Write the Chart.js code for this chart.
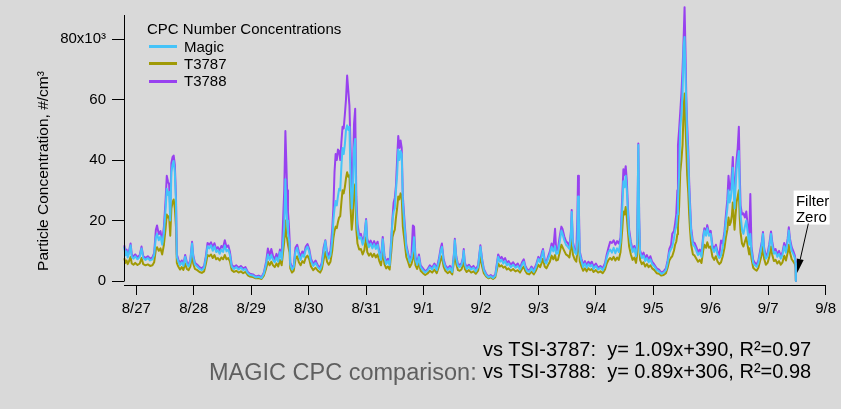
<!DOCTYPE html>
<html><head><meta charset="utf-8">
<script src="https://cdn.jsdelivr.net/npm/chart.js@4.4.1/dist/chart.umd.min.js"></script>
<style>
html,body{margin:0;padding:0;background:#d9d9d9;}
#wrap{position:relative;width:841px;height:409px;overflow:hidden;background:#d9d9d9;font-family:'Liberation Sans',Arial,Helvetica,sans-serif;}
#c{position:absolute;left:0;top:0;}
.abs{position:absolute;white-space:pre;color:#000;}
.lgline{position:absolute;height:3px;width:28px;}
</style></head><body>
<div id="wrap">
<canvas id="c" width="841" height="409"></canvas>
<div id="legend"></div>
<div class="abs" style="left:483px;top:339px;font-size:20px;line-height:20px;">vs TSI-3787:  y= 1.09x+390, R²=0.97</div>
<div class="abs" style="left:209px;top:361px;font-size:23.5px;line-height:23.5px;color:#5f5f5f;">MAGIC CPC comparison:</div>
<div class="abs" style="left:483px;top:361px;font-size:20px;line-height:20px;">vs TSI-3788:  y= 0.89x+306, R²=0.98</div>
</div>
<script>
// ---- DATA (time in days since 8/27 00:00; concentrations in 10^3 #/cm^3) ----
const TIME_DAYS = [
 -0.21,-0.19,-0.17,-0.15,-0.13,-0.10,-0.08,-0.05,-0.02,0.02,0.06,0.09,0.12,0.16,0.20,0.24,0.28,0.31,
 0.34,0.36,0.39,0.42,0.45,0.48,0.51,0.53,0.55,0.57,0.59,0.61,0.63,0.65,0.67,0.69,0.705,
 0.73,0.76,0.79,0.82,0.85,0.88,0.91,0.94,0.97,0.99,1.02,1.06,1.10,1.14,1.18,
 1.21,1.24,1.27,1.30,1.33,1.36,1.39,1.42,1.45,1.48,1.51,1.54,1.57,1.60,1.63,
 1.66,1.70,1.74,1.78,1.82,1.86,1.90,1.94,1.98,2.03,2.08,2.13,2.18,
 2.22,2.26,2.29,2.32,2.35,2.38,2.41,2.44,2.47,2.50,2.53,
 2.575,2.595,2.61,2.625,2.64,2.655,2.668,
 2.68,2.71,2.74,2.77,2.80,2.83,2.86,2.89,2.92,2.95,2.98,3.01,3.04,3.08,3.12,3.16,3.20,3.23,
 3.26,3.29,3.32,3.35,3.38,3.41,
 3.43,3.45,3.47,3.49,3.51,3.53,3.55,3.57,3.59,3.61,3.63,3.65,3.67,3.69,3.71,3.73,3.75,3.77,3.79,3.81,3.83,3.85,
 3.88,3.91,3.94,3.97,4.00,4.02,4.05,4.08,4.11,4.14,4.17,4.20,4.23,4.26,4.29,4.32,4.35,4.38,4.41,
 4.44,4.46,4.48,4.50,4.52,4.54,4.56,4.58,4.60,4.62,4.64,4.67,
 4.70,4.73,4.76,4.79,4.815,4.835,4.86,4.89,4.92,4.95,4.99,5.03,5.07,5.11,5.15,5.19,5.23,
 5.27,5.30,5.32,5.35,5.38,5.42,5.46,5.50,5.53,5.545,5.57,5.60,5.63,5.66,5.685,5.70,5.72,5.75,5.79,5.83,5.87,5.91,5.95,5.99,6.02,
 6.05,6.09,6.13,6.17,6.21,6.25,6.28,6.30,6.33,6.36,6.39,6.42,6.45,6.48,6.52,6.56,6.60,6.64,6.68,6.72,6.745,6.77,6.80,6.84,6.88,6.92,6.96,
 7.00,7.03,7.06,7.08,7.11,7.14,7.17,7.20,7.23,7.26,7.29,7.31,7.34,7.37,7.40,7.42,7.45,7.48,7.51,7.54,7.565,7.58,7.60,7.63,7.66,7.68,7.69,7.705,7.72,
 7.75,7.78,7.81,7.84,7.87,7.90,7.93,7.96,8.00,8.04,8.08,8.12,8.16,8.19,8.22,8.25,8.28,8.31,8.34,8.37,8.40,8.43,
 8.46,8.48,8.50,8.52,8.54,8.56,8.58,8.61,8.64,8.67,8.70,8.72,8.74,8.755,8.77,
 8.80,8.83,8.86,8.89,8.92,8.95,8.98,9.02,9.06,9.10,9.14,9.18,9.22,9.25,
 9.28,9.31,9.33,9.36,9.38,9.40,9.42,9.43,9.45,9.47,9.49,9.51,9.53,9.545,9.56,9.575,9.59,9.61,9.625,9.64,9.66,9.69,
 9.72,9.75,9.78,9.81,9.84,9.87,9.89,9.92,9.94,9.97,10.00,10.03,10.06,10.09,10.12,10.15,10.18,10.21,
 10.24,10.265,10.29,10.31,10.33,10.35,10.37,10.385,10.40,10.415,10.43,10.45,10.47,10.49,10.505,10.52,10.545,10.57,10.595,10.62,10.645,10.67,10.69,10.71,
 10.74,10.77,10.80,10.83,10.86,10.89,10.91,10.93,10.96,10.99,11.02,11.05,11.07,11.10,11.13,11.16,11.19,11.22,11.25,11.28,11.31,11.34,11.36,11.38,11.41,11.44,11.465,11.478,11.483
];
const MAGIC = [
 11.3,8.5,9.8,7.8,9.0,11.8,8.0,7.4,8.2,7.2,8.0,10.8,7.6,7.0,7.6,6.8,7.2,8.6,
 14.5,15.6,13.5,14.8,12.0,16.0,24.0,30.5,28.5,29.5,20.0,36.0,38.5,39.7,36.0,26.0,8.0,
 6.5,5.2,6.2,5.0,8.0,5.6,4.8,6.5,12.4,8.0,5.5,4.8,4.0,3.6,4.4,
 7.5,11.5,10.8,11.8,10.0,11.5,9.6,10.2,9.0,10.4,9.6,11.8,9.8,10.4,8.6,
 4.8,4.0,4.6,3.8,4.4,3.6,4.0,2.6,2.0,1.8,1.2,1.4,1.0,
 2.4,5.6,8.8,7.0,8.6,7.0,6.2,7.8,6.4,9.6,7.0,
 18.0,33.7,24.0,20.0,16.0,14.0,12.5,
 5.5,3.8,4.6,9.6,11.0,8.4,7.0,8.8,8.0,10.4,11.4,9.6,6.6,5.0,6.0,4.6,3.8,5.4,
 9.6,13.2,8.6,7.4,8.6,13.5,
 20.0,24.0,26.5,25.0,28.0,30.5,30.0,38.0,44.0,42.0,45.0,50.0,51.5,50.0,51.0,33.0,24.0,30.0,44.0,47.0,24.0,17.0,
 14.0,14.5,12.0,14.0,20.0,13.0,11.2,12.4,10.8,12.2,10.6,12.0,9.0,7.0,13.8,7.6,5.6,6.6,5.2,
 13.5,20.0,23.0,24.0,30.0,35.0,43.5,40.0,43.0,42.0,26.0,18.0,
 11.0,8.6,6.2,7.6,10.0,14.5,7.0,5.4,8.0,4.6,3.6,2.8,3.4,4.6,3.8,5.2,3.6,
 6.8,10.0,11.3,6.4,4.6,3.6,4.4,3.0,8.6,13.5,7.6,5.0,4.6,5.2,7.0,10.0,5.4,4.0,4.8,3.8,4.4,3.2,4.6,11.3,6.6,
 3.6,2.0,1.2,1.6,1.0,1.8,5.4,8.0,6.4,7.0,5.8,6.6,5.2,5.8,4.6,5.4,4.4,5.0,3.8,5.6,6.4,4.6,3.4,3.0,4.2,3.0,4.8,
 7.4,6.2,8.4,10.0,6.4,5.8,7.4,8.8,11.3,9.8,11.5,9.0,9.2,12.8,16.7,15.6,13.5,12.0,11.4,10.6,15.0,22.8,12.0,9.6,8.8,14.0,28.0,20.0,9.0,
 6.6,4.6,5.8,4.4,5.6,4.8,5.4,4.0,5.0,3.8,4.4,3.6,5.2,7.8,9.6,10.4,9.4,11.0,9.2,10.8,9.6,13.0,
 24.0,33.0,31.0,34.8,30.0,22.0,15.6,12.0,9.6,10.8,8.2,12.0,45.0,20.0,9.4,
 7.6,8.4,6.6,7.6,6.2,7.2,5.6,4.8,3.6,3.2,2.4,2.8,3.6,6.0,
 9.4,10.6,11.3,14.0,16.7,18.0,22.0,26.6,35.0,50.7,55.0,62.0,78.0,80.7,68.0,59.0,48.0,40.0,30.0,24.0,16.0,12.0,
 11.4,10.0,8.6,9.4,8.0,14.0,16.7,15.0,17.5,15.0,15.6,10.8,9.6,11.2,8.6,7.6,8.4,11.3,
 15.0,20.0,24.0,30.0,26.0,27.5,32.0,37.5,30.0,24.0,30.0,37.0,40.0,43.0,30.0,22.0,17.0,15.6,18.0,20.0,16.0,12.0,15.6,10.0,
 6.0,5.2,4.7,6.0,9.0,12.0,15.6,10.0,7.4,8.2,11.0,15.6,12.0,9.0,9.6,8.0,9.0,7.4,8.6,11.5,9.4,13.0,16.7,13.0,10.0,8.8,7.6,6.0,0.0
];
const T3787 = [
 7.5,6.0,6.8,5.6,6.4,8.0,5.8,5.4,6.0,5.3,5.8,7.6,5.6,5.2,5.5,5.0,5.2,6.2,
 10.5,11.2,10.0,10.8,8.8,12.0,17.5,22.0,21.0,21.5,15.0,24.0,26.0,27.0,24.0,18.0,6.0,
 4.8,3.8,4.6,3.7,5.8,4.0,3.6,4.8,9.0,5.8,4.0,3.6,3.0,2.7,3.2,
 5.6,8.6,8.2,8.8,7.6,8.6,7.2,7.6,6.8,7.8,7.2,8.6,7.2,7.6,6.4,
 3.6,3.0,3.4,2.8,3.2,2.6,3.0,1.9,1.5,1.3,0.9,1.0,0.7,
 1.8,4.2,6.4,5.2,6.4,5.2,4.6,5.8,4.8,7.0,5.2,
 13.0,20.0,15.0,14.0,12.0,10.5,9.4,
 4.2,2.8,3.4,7.2,8.2,6.2,5.2,6.6,6.0,7.8,8.4,7.2,4.8,3.6,4.4,3.4,2.8,4.0,
 7.0,9.6,6.4,5.4,6.4,10.0,
 14.0,16.5,18.0,17.5,19.5,21.0,21.5,26.0,30.0,29.0,31.0,34.0,36.0,34.5,35.0,24.0,17.0,21.0,30.0,32.0,17.0,12.4,
 10.4,10.6,8.8,10.2,14.5,9.6,8.4,9.2,8.0,9.0,7.8,8.8,6.6,5.2,10.0,5.6,4.2,4.8,3.8,
 10.0,14.6,16.0,17.0,21.0,24.0,28.0,27.0,29.0,28.0,18.0,13.0,
 8.0,6.4,4.6,5.6,7.4,10.2,5.2,4.0,6.0,3.4,2.6,2.0,2.5,3.4,2.8,3.8,2.6,
 5.0,7.2,8.2,4.8,3.4,2.6,3.2,2.2,6.4,10.0,5.6,3.6,3.4,3.8,5.2,7.0,4.0,3.0,3.6,2.8,3.2,2.4,3.4,8.2,4.8,
 2.6,1.5,0.9,1.2,0.7,1.3,4.0,5.8,4.8,5.2,4.4,4.8,3.8,4.2,3.4,4.0,3.2,3.6,2.8,4.2,4.8,3.4,2.5,2.2,3.1,2.2,3.6,
 5.4,4.6,6.2,7.4,4.8,4.2,5.4,6.4,8.4,7.2,8.6,6.8,7.0,9.4,12.0,11.2,10.0,8.8,8.4,7.8,11.0,16.0,8.8,7.2,6.4,10.0,20.0,14.0,6.6,
 4.8,3.4,4.2,3.2,4.2,3.6,4.0,3.0,3.6,2.8,3.2,2.6,3.8,5.8,7.0,7.6,7.0,8.0,6.8,7.8,7.0,9.6,
 17.0,23.0,22.0,24.5,21.0,16.0,11.4,8.8,7.0,7.8,6.0,8.8,33.0,14.0,7.0,
 5.6,6.2,4.8,5.6,4.6,5.2,4.2,3.6,2.6,2.4,1.8,2.0,2.6,4.4,
 6.8,7.8,8.2,10.0,12.0,13.0,15.5,18.5,24.5,36.0,40.0,45.0,58.0,62.0,52.0,44.0,35.0,29.0,22.0,17.0,12.0,8.8,
 8.4,7.4,6.4,7.0,6.0,10.2,12.0,11.0,12.8,11.0,11.4,8.0,7.0,8.2,6.4,5.6,6.2,8.2,
 11.0,14.5,17.0,21.0,18.5,19.5,22.0,26.0,21.0,17.0,21.0,26.0,28.0,30.0,21.0,16.0,12.4,11.4,13.0,14.5,11.6,8.8,11.0,7.4,
 4.4,3.8,3.4,4.4,6.6,8.8,11.4,7.4,5.4,6.0,8.0,11.4,8.8,6.6,7.0,5.8,6.6,5.4,6.2,8.4,6.8,9.4,12.0,9.4,7.2,6.4,5.6,4.4,0.0
];
const T3788 = [
 11.8,9.2,10.4,8.4,9.8,12.4,8.8,8.0,8.8,7.8,8.6,11.4,8.2,7.6,8.2,7.4,7.8,9.2,
 17.0,18.4,15.5,16.5,13.2,18.0,27.0,34.8,33.0,32.0,24.0,39.0,41.0,41.5,38.5,28.0,8.8,
 7.2,5.8,6.8,5.6,8.6,6.2,5.4,7.0,13.0,8.6,6.0,5.4,4.6,4.2,5.0,
 8.2,12.6,12.0,12.8,11.2,12.5,10.6,11.2,10.0,11.6,11.0,13.5,11.2,11.8,9.6,
 5.4,4.6,5.2,4.4,5.0,4.2,4.6,3.0,2.4,2.2,1.5,1.8,1.3,
 2.8,6.4,10.8,8.4,10.6,8.2,7.2,9.0,7.4,10.4,7.8,
 30.0,49.6,40.0,30.0,23.0,19.0,14.0,
 6.2,4.4,5.2,11.0,12.0,9.6,8.0,9.8,9.0,11.4,12.2,10.6,7.4,5.6,6.8,5.2,4.4,6.2,
 11.0,13.5,9.6,8.4,10.2,17.0,
 24.0,36.0,42.0,40.0,43.5,43.0,40.0,46.0,51.0,50.5,55.0,60.0,68.0,63.0,58.0,44.0,30.0,36.0,52.0,57.0,28.0,19.0,
 15.2,15.6,13.0,15.0,20.5,14.0,12.2,13.4,11.8,13.2,11.6,13.0,9.8,7.8,14.6,8.4,6.2,7.4,5.8,
 14.6,21.0,26.0,27.5,31.5,40.0,48.0,44.0,46.5,44.0,28.0,19.5,
 12.0,9.4,7.0,8.4,18.4,18.0,8.0,6.0,8.8,5.2,4.2,3.2,3.9,5.2,4.4,5.8,4.2,
 7.6,11.0,12.4,7.2,5.2,4.2,5.0,3.6,9.2,14.0,8.2,5.6,5.4,5.8,7.6,10.6,6.0,4.6,5.4,4.4,5.0,3.8,5.2,11.8,7.2,
 4.0,2.4,1.5,2.0,1.3,2.2,6.2,8.8,7.4,8.0,6.8,7.6,6.0,6.6,5.4,6.2,5.0,5.8,4.4,6.4,7.2,5.2,4.0,3.4,4.8,3.6,5.4,
 8.0,6.8,9.4,10.6,7.0,6.4,8.2,9.8,12.4,10.8,17.3,10.0,10.6,14.5,18.0,17.2,14.8,13.2,12.6,11.6,16.0,23.5,13.0,10.4,9.6,22.0,34.8,24.0,9.8,
 7.4,5.4,6.6,5.2,6.4,5.6,6.4,4.8,5.8,4.4,5.0,4.2,6.0,8.8,11.0,13.0,12.6,13.5,12.0,13.2,12.4,14.4,
 28.0,37.0,35.0,38.0,33.0,24.0,17.0,13.0,10.4,11.6,9.0,13.0,45.5,21.0,10.2,
 8.4,9.4,7.4,8.6,7.0,8.2,6.4,5.4,4.2,3.8,2.8,3.2,4.2,6.8,
 10.6,12.0,15.6,16.5,19.0,22.0,30.0,45.0,50.0,56.0,62.0,70.0,81.0,90.6,77.0,61.0,52.0,43.0,33.0,26.0,17.5,13.0,
 12.6,11.2,9.6,10.4,9.0,15.0,17.5,16.4,18.5,16.0,16.6,11.8,10.6,12.0,9.6,8.6,13.4,12.4,
 16.5,22.0,27.0,34.8,30.0,31.0,36.0,41.0,33.0,27.0,33.0,40.0,44.0,51.0,36.0,25.0,22.0,22.4,21.0,23.0,18.0,14.0,28.8,11.4,
 7.0,6.0,5.4,6.8,10.0,13.0,16.2,11.0,8.2,9.2,12.2,16.4,13.2,10.0,10.6,8.8,10.0,8.2,9.6,12.6,10.4,14.0,17.8,14.0,11.2,9.8,8.4,6.6,0.0
];
const SERIES_NAMES = ['Magic', 'T3787', 'T3788'];
const SERIES_COLORS = ['#45c3f8', '#a09a06', '#9841ef'];
const X_TICK_VALUES = [0,1,2,3,4,5,6,7,8,9,10,11,12];
const X_TICK_LABELS = ['8/27','8/28','8/29','8/30','8/31','9/1','9/2','9/3','9/4','9/5','9/6','9/7','9/8'];
const Y_TICK_VALUES = [0,20,40,60,80];
const Y_TICK_LABELS = ['0','20','40','60','80x10³'];
const Y_TITLE = 'Particle Concentration, #/cm³';
const LEGEND_TITLE = 'CPC Number Concentrations';
const ANNOTATION = { lines: ['Filter', 'Zero'], tailX: 11.70, tailY: 19.0, tipX: 11.505, tipY: 2.7 };

if (!(TIME_DAYS.length === MAGIC.length && MAGIC.length === T3787.length && T3787.length === T3788.length)) {
  console.error('length mismatch', TIME_DAYS.length, MAGIC.length, T3787.length, T3788.length);
}

const FONT = "'Liberation Sans', Arial, Helvetica, sans-serif";
Chart.defaults.font.family = FONT;
Chart.defaults.color = '#000';

const toPts = arr => TIME_DAYS.map((t, i) => ({ x: t, y: arr[i] }));
const valuesByName = { 'Magic': MAGIC, 'T3787': T3787, 'T3788': T3788 };
// drawing order: T3787 bottom, T3788 middle, Magic on top
const drawOrder = { 'Magic': 1, 'T3788': 2, 'T3787': 3 };

const datasets = SERIES_NAMES.map((n, i) => ({
  label: n,
  data: toPts(valuesByName[n]),
  borderColor: SERIES_COLORS[i],
  backgroundColor: SERIES_COLORS[i],
  borderWidth: 2,
  pointRadius: 0,
  tension: 0,
  fill: false,
  clip: false,
  borderJoinStyle: 'round',
  order: drawOrder[n]
}));

const igorPlugin = {
  id: 'igor',
  afterDraw(chart) {
    const { ctx, chartArea, scales: { x, y } } = chart;
    ctx.save();
    // left axis line from top of plot down to the zero level (Igor style)
    ctx.strokeStyle = '#000';
    ctx.lineWidth = 1;
    const ax = Math.round(chartArea.left) + 0.5;
    ctx.beginPath();
    ctx.moveTo(ax, chartArea.top);
    ctx.lineTo(ax, Math.round(y.getPixelForValue(0)) + 0.5);
    ctx.stroke();

    // y axis title, centred on the left axis' value range
    ctx.save();
    ctx.translate(44, (y.getPixelForValue(0) + chartArea.top) / 2 + 23);
    ctx.rotate(-Math.PI / 2);
    ctx.font = '15.5px ' + FONT;
    ctx.fillStyle = '#000';
    ctx.textAlign = 'center';
    ctx.textBaseline = 'middle';
    ctx.fillText(Y_TITLE, 0, 0);
    ctx.restore();

    // annotation with arrow
    const tx = x.getPixelForValue(ANNOTATION.tailX), ty = y.getPixelForValue(ANNOTATION.tailY);
    const hx = x.getPixelForValue(ANNOTATION.tipX), hy = y.getPixelForValue(ANNOTATION.tipY);
    ctx.font = '15px ' + FONT;
    const bw = 36, bh = 34, bl = tx - 14.7, bt = ty - 33;
    ctx.fillStyle = '#fff';
    ctx.fillRect(bl, bt, bw, bh);
    ctx.fillStyle = '#000';
    ctx.textBaseline = 'alphabetic';
    ctx.textAlign = 'left';
    ctx.fillText(ANNOTATION.lines[0], bl + 2.3, bt + 15);
    ctx.fillText(ANNOTATION.lines[1], bl + 2.3, bt + 31.5);
    const ang = Math.atan2(hy - ty, hx - tx);
    const L = 14, W = 3.5;
    const bx = hx - L * Math.cos(ang), by = hy - L * Math.sin(ang);
    ctx.beginPath();
    ctx.moveTo(tx, ty);
    ctx.lineTo(bx, by);
    ctx.stroke();
    ctx.beginPath();
    ctx.moveTo(hx, hy);
    ctx.lineTo(bx + W * Math.sin(ang), by - W * Math.cos(ang));
    ctx.lineTo(bx - W * Math.sin(ang), by + W * Math.cos(ang));
    ctx.closePath();
    ctx.fill();
    ctx.restore();
  }
};

const chart = new Chart(document.getElementById('c'), {
  type: 'line',
  data: { datasets },
  options: {
    responsive: false,
    animation: false,
    layout: { padding: { top: 13, right: 11.7, left: 0, bottom: 0 } },
    plugins: { legend: { display: false }, tooltip: { enabled: false }, title: { display: false } },
    scales: {
      x: {
        type: 'linear',
        min: -0.215,
        max: 12,
        afterBuildTicks: s => { s.ticks = X_TICK_VALUES.map(v => ({ value: v })); },
        afterFit: s => { s.height = 124; },
        ticks: {
          callback: v => X_TICK_LABELS[X_TICK_VALUES.indexOf(v)],
          font: { size: 15 }, color: '#000', padding: 5, maxRotation: 0, autoSkip: false
        },
        grid: { drawOnChartArea: false, drawTicks: true, tickLength: 10, color: '#000', lineWidth: 1 },
        border: { display: true, color: '#000', width: 1 }
      },
      y: {
        type: 'linear',
        min: -1.31,
        max: 88,
        afterBuildTicks: s => { s.ticks = Y_TICK_VALUES.map(v => ({ value: v })); },
        afterFit: s => { s.width = 124; },
        ticks: {
          callback: v => Y_TICK_LABELS[Y_TICK_VALUES.indexOf(v)],
          font: { size: 15 }, color: '#000', padding: 6
        },
        grid: { drawOnChartArea: false, drawTicks: true, tickLength: 12, color: '#000', lineWidth: 1 },
        border: { display: false }
      }
    }
  },
  plugins: [igorPlugin]
});

// HTML legend built from the series names/colours
const lg = document.getElementById('legend');
const title = document.createElement('div');
title.className = 'abs';
title.style.cssText = 'left:147px;top:20px;font-size:15px;line-height:17px;';
title.textContent = LEGEND_TITLE;
lg.appendChild(title);
SERIES_NAMES.forEach((n, i) => {
  const top = 38 + i * 17.2;
  const line = document.createElement('div');
  line.className = 'lgline';
  line.style.cssText = `left:149px;top:${top + 7.2}px;background:${SERIES_COLORS[i]};`;
  lg.appendChild(line);
  const t = document.createElement('div');
  t.className = 'abs';
  t.style.cssText = `left:184px;top:${top}px;font-size:15px;line-height:17px;`;
  t.textContent = n;
  lg.appendChild(t);
});
</script>
</body></html>
